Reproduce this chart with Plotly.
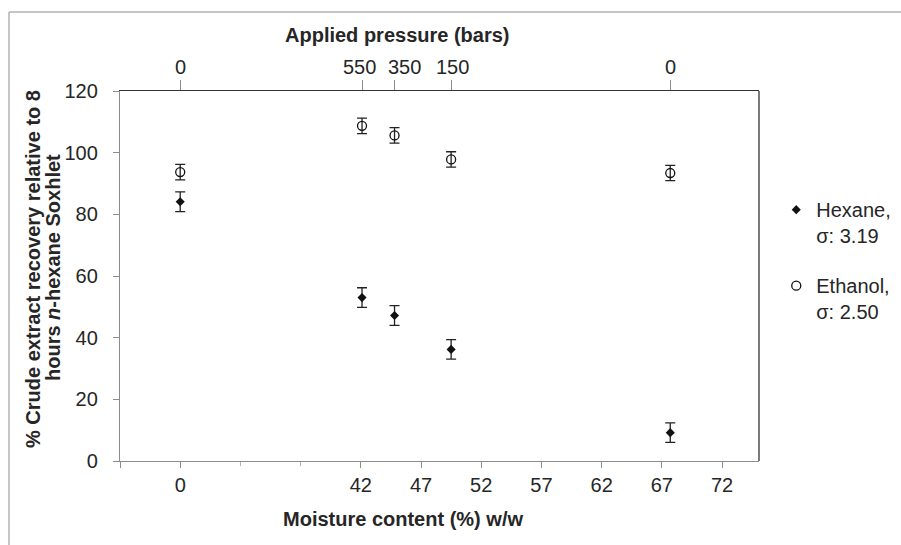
import plotly.graph_objects as go

# Moisture content: the dry sample (label "0") is drawn at position 27 on a broken axis
moisture_pos = [27, 42.1, 44.8, 49.5, 67.7]
pressure_labels = ["0", "550", "350", "150", "0"]
pressure_label_shift = [0, -3, 10, 1, 0]   # small horizontal nudges of the top labels (px)
hexane = [84.1, 53.0, 47.2, 36.2, 9.2]
ethanol = [93.7, 108.7, 105.6, 97.8, 93.4]
hexane_sigma = 3.19
ethanol_sigma = 2.50

x_tickvals = [22, 27, 42, 47, 52, 57, 62, 67, 72]
x_ticktext = ["", "0", "42", "47", "52", "57", "62", "67", "72"]
x_minor_ticks = [32, 37]
y_ticks = [0, 20, 40, 60, 80, 100, 120]

TXT = "#262626"
GRAY = "#8c8c8c"
FONT = "Liberation Sans, Arial, sans-serif"

fig = go.Figure()
fig.add_trace(go.Scatter(
    x=moisture_pos, y=hexane, mode="markers", name="Hexane,<br>σ: 3.19",
    legendgroup="h",
    marker=dict(symbol="diamond", size=7, color="#111111"),
    error_y=dict(type="constant", value=hexane_sigma, color="#222222", thickness=1.3, width=5),
))
fig.add_trace(go.Scatter(
    x=moisture_pos, y=ethanol, mode="markers", name="Ethanol,<br>σ: 2.50",
    legendgroup="e",
    marker=dict(symbol="circle-open", size=9, color="#111111", line=dict(width=1.3)),
    error_y=dict(type="constant", value=ethanol_sigma, color="#222222", thickness=1.3, width=5),
))
# invisible trace to anchor the top (pressure) axis
fig.add_trace(go.Scatter(x=moisture_pos, y=ethanol, xaxis="x2", mode="markers",
                         marker=dict(opacity=0), showlegend=False, hoverinfo="skip"))

fig.update_layout(
    width=901, height=545,
    margin=dict(l=120, r=142, t=91, b=84, autoexpand=False),
    paper_bgcolor="white", plot_bgcolor="white",
    font=dict(family=FONT, size=20, color=TXT),
    showlegend=True,
    legend=dict(x=1.027, y=0.732, xanchor="left", yanchor="top", valign="top",
                tracegroupgap=21, font=dict(size=20, color=TXT), bgcolor="rgba(0,0,0,0)"),
    xaxis=dict(range=[22, 75.07], tickmode="array", tickvals=x_tickvals, ticktext=x_ticktext,
               showline=True, linecolor=GRAY, linewidth=1.3, ticks="outside", ticklen=6,
               tickcolor=GRAY, tickwidth=1.3, showgrid=False, zeroline=False,
               tickfont=dict(size=20, color=TXT),
               minor=dict(tickvals=x_minor_ticks, ticks="outside", ticklen=4, tickcolor="#b0b0b0",
                          tickwidth=1, showgrid=False)),
    xaxis2=dict(overlaying="x", side="top", matches="x", tickmode="array",
                tickvals=moisture_pos, showticklabels=False,
                showline=True, linecolor="#333333", linewidth=1.3, ticks="outside", ticklen=10,
                tickcolor=GRAY, tickwidth=1.3, showgrid=False, zeroline=False),
    yaxis=dict(range=[0, 120], tickmode="array", tickvals=y_ticks,
               showline=True, linecolor=GRAY, linewidth=1.3, ticks="outside", ticklen=6,
               tickcolor=GRAY, tickwidth=1.3, showgrid=False, zeroline=False,
               ticklabelstandoff=11, tickfont=dict(size=20, color=TXT)),
)

# top-axis (pressure) tick labels
for xv, lab, sh in zip(moisture_pos, pressure_labels, pressure_label_shift):
    fig.add_annotation(text=lab, x=xv, xref="x", y=(461 - 67) / 370, yref="paper",
                       xshift=sh, showarrow=False, xanchor="center", yanchor="middle",
                       font=dict(size=20, color=TXT))

# right border of plot area and outer frame (top/left)
fig.add_shape(type="line", xref="paper", yref="paper", x0=1, x1=1, y0=0, y1=1,
              line=dict(color="#333333", width=1.3))
fx = (9 - 120) / 639
fy = (461 - 12) / 370
fig.add_shape(type="line", xref="paper", yref="paper", x0=fx, x1=(901 - 120) / 639, y0=fy, y1=fy,
              line=dict(color="#b3b3b3", width=1.5))
fig.add_shape(type="line", xref="paper", yref="paper", x0=fx, x1=fx, y0=fy, y1=(461 - 545) / 370,
              line=dict(color="#b3b3b3", width=1.5))

fig.add_annotation(text="<b>Applied pressure (bars)</b>", xref="paper", yref="paper",
                   x=(397 - 120) / 639, y=(461 - 35) / 370, showarrow=False,
                   xanchor="center", yanchor="middle", font=dict(size=20, color=TXT))
fig.add_annotation(text="<b>Moisture content (%) w/w</b>", xref="paper", yref="paper",
                   x=(403 - 120) / 639, y=(461 - 519) / 370, showarrow=False,
                   xanchor="center", yanchor="middle", font=dict(size=20, color=TXT))
fig.add_annotation(text="<b>% Crude extract recovery relative to 8</b>",
                   xref="paper", yref="paper", x=(33 - 120) / 639, y=(461 - 269) / 370,
                   showarrow=False, textangle=-90, xanchor="center", yanchor="middle",
                   font=dict(size=20, color=TXT))
fig.add_annotation(text="<b>hours <i>n</i>-hexane Soxhlet</b>",
                   xref="paper", yref="paper", x=(53 - 120) / 639, y=(461 - 268) / 370,
                   showarrow=False, textangle=-90, xanchor="center", yanchor="middle",
                   font=dict(size=20, color=TXT))

fig.write_html("out.html", config={"displayModeBar": False},
               post_script="document.body.style.margin='0';")
